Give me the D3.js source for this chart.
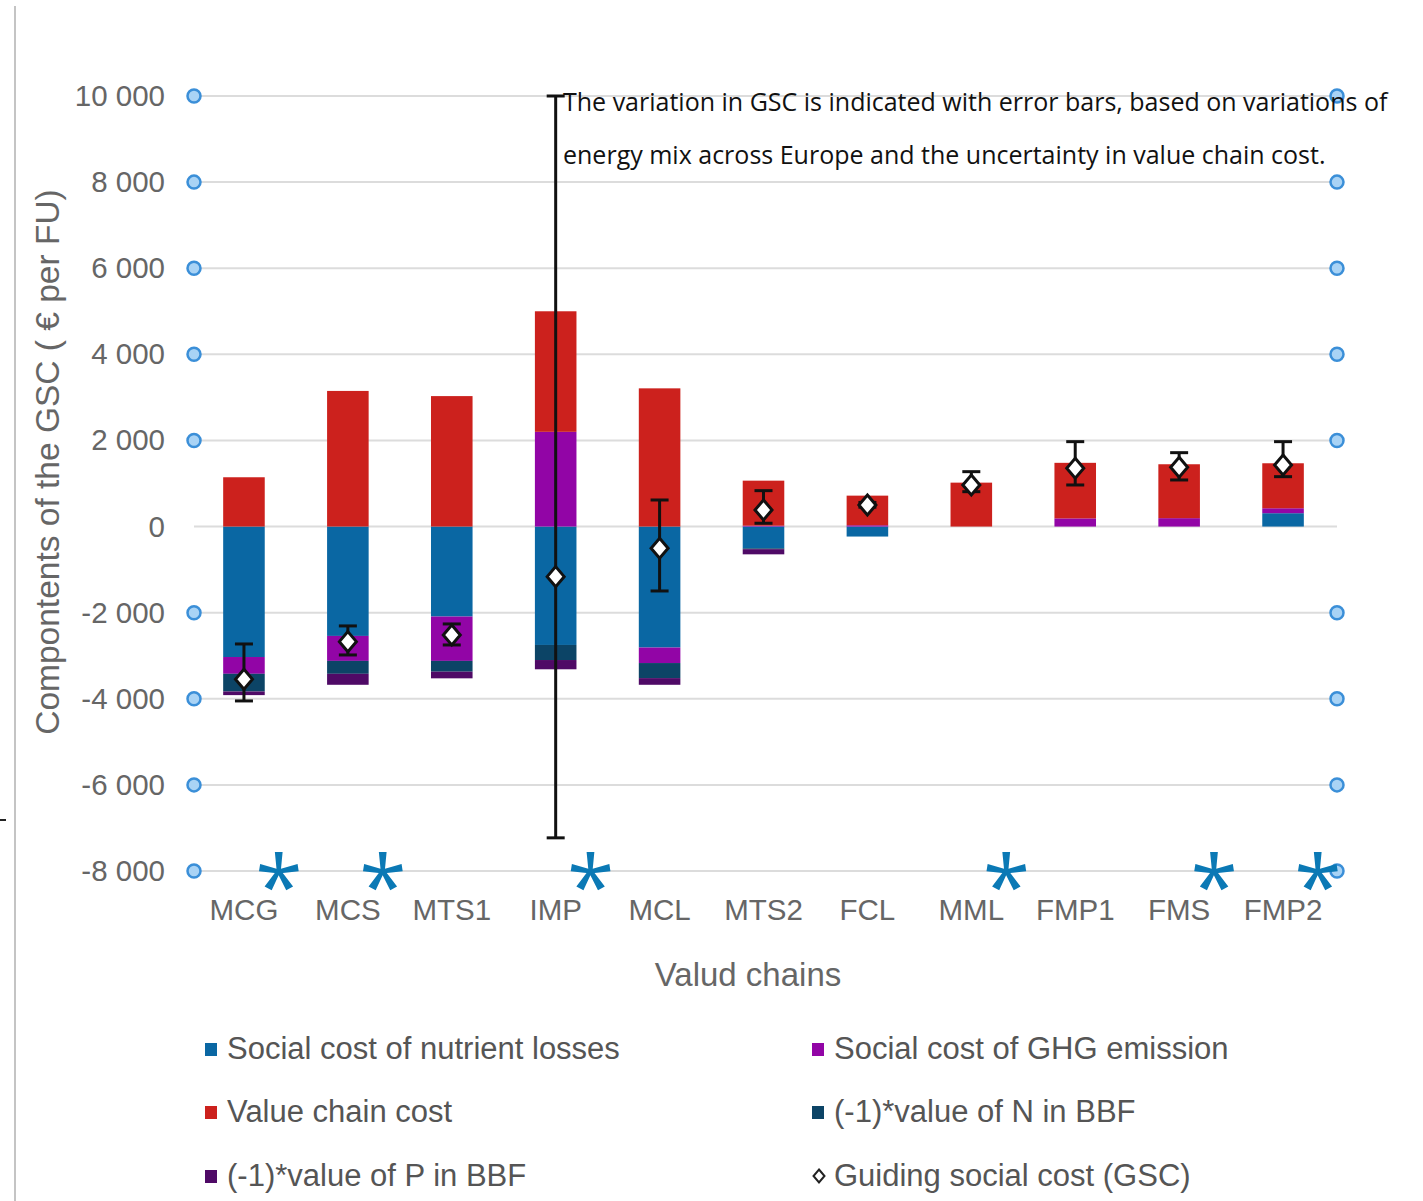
<!DOCTYPE html>
<html>
<head>
<meta charset="utf-8">
<script src="https://cdn.jsdelivr.net/npm/d3@7"></script>
<style>
  html, body { margin: 0; padding: 0; background: #fff; }
  svg { display: block; }
</style>
</head>
<body>
<svg id="chart" width="1423" height="1201"></svg>
<script>
// Value chains on the x axis
const categories = ["MCG", "MCS", "MTS1", "IMP", "MCL", "MTS2", "FCL", "MML", "FMP1", "FMS", "FMP2"];

// GSC components (€ per FU)
const nutrientLoss   = [-3030, -2540, -2090, -2750, -2810, -505, -232, 0, 0, 0, 310];
const ghgEmission    = [-390, -580, -1030, 2200, -360, 20, 30, 0, 190, 195, 115];
const valueChainCost = [1145, 3150, 3030, 2800, 3210, 1046, 688, 1020, 1290, 1252, 1045];
const nValue         = [-410, -300, -250, -350, -350, -20, 0, 0, 0, 0, 0];
const pValue         = [-85, -255, -155, -215, -155, -120, 0, 0, 0, 0, 0];

// Guiding social cost and its range
const gsc     = [-3546, -2673, -2518, -1163, -505, 385, 500, 966, 1354, 1377, 1430];
const gscLow  = [-4050, -2982, -2750, -7230, -1496, 77, 450, 810, 966, 1082, 1159];
const gscHigh = [-2727, -2308, -2262, 10000, 617, 834, 560, 1275, 1972, 1716, 1972];

// Chains flagged with an asterisk
const flagged = ["MCG", "MCS", "IMP", "MML", "FMS", "FMP2"];

// Axis ticks
const yTicks = [10000, 8000, 6000, 4000, 2000, 0, -2000, -4000, -6000, -8000];

const seriesKeys   = ["nutrient", "ghg", "vcc", "n", "p"];
const seriesLabels = {
  nutrient: "Social cost of nutrient losses",
  ghg: "Social cost of GHG emission",
  vcc: "Value chain cost",
  n: "(-1)*value of N in BBF",
  p: "(-1)*value of P in BBF"
};
const colors = {
  nutrient: "#0a67a3",
  ghg: "#9205a6",
  vcc: "#cc211d",
  n: "#0c4466",
  p: "#4f0a66"
};

const rows = categories.map((c, i) => ({
  cat: c,
  nutrient: nutrientLoss[i],
  ghg: ghgEmission[i],
  vcc: valueChainCost[i],
  n: nValue[i],
  p: pValue[i]
}));

const svg = d3.select("#chart");
const fontAxis = "'Liberation Sans', Arial, sans-serif";

const left = 194, right = 1337;
const x = d3.scaleBand()
  .domain(categories)
  .range([192, 1335])
  .paddingInner(0.6)
  .paddingOuter(0.3);
const y = d3.scaleLinear().domain([-8000, 10000]).range([871, 96]);

// frame line on the left edge
svg.append("line")
  .attr("x1", 15).attr("x2", 15).attr("y1", 6).attr("y2", 1201)
  .attr("stroke", "#c4c4c4").attr("stroke-width", 2);
svg.append("line")
  .attr("x1", 0).attr("x2", 6).attr("y1", 820).attr("y2", 820)
  .attr("stroke", "#222").attr("stroke-width", 2);

// gridlines
svg.append("g").selectAll("line")
  .data(yTicks)
  .join("line")
  .attr("x1", left).attr("x2", right)
  .attr("y1", d => y(d)).attr("y2", d => y(d))
  .attr("stroke", "#dcdcdc").attr("stroke-width", 2);

// y axis labels
const fmt = d3.formatLocale({ decimal: ".", thousands: " ", grouping: [3], currency: ["", ""], minus: "-" }).format(",");
const yAxis = svg.append("g")
  .attr("transform", `translate(${left},0)`)
  .call(d3.axisLeft(y).tickValues(yTicks).tickSize(0).tickPadding(29).tickFormat(fmt));
yAxis.select(".domain").remove();
yAxis.selectAll("text")
  .attr("font-family", fontAxis)
  .attr("font-size", 29.5)
  .attr("fill", "#666");

// stacked bars
const stack = d3.stack().keys(seriesKeys).offset(d3.stackOffsetDiverging);
const stacked = stack(rows);
svg.append("g").selectAll("g")
  .data(stacked)
  .join("g")
  .attr("fill", d => colors[d.key])
  .selectAll("rect")
  .data(d => d)
  .join("rect")
  .attr("x", d => x(d.data.cat))
  .attr("width", x.bandwidth())
  .attr("y", d => y(Math.max(d[0], d[1])))
  .attr("height", d => Math.abs(y(d[0]) - y(d[1])));

// error bars
const capW = 9;
const eb = svg.append("g").attr("stroke", "#111").attr("stroke-width", 3);
categories.forEach((c, i) => {
  const cx = x(c) + x.bandwidth() / 2;
  eb.append("line").attr("x1", cx).attr("x2", cx).attr("y1", y(gscHigh[i])).attr("y2", y(gscLow[i]));
  eb.append("line").attr("x1", cx - capW).attr("x2", cx + capW).attr("y1", y(gscHigh[i])).attr("y2", y(gscHigh[i]));
  eb.append("line").attr("x1", cx - capW).attr("x2", cx + capW).attr("y1", y(gscLow[i])).attr("y2", y(gscLow[i]));
});

// GSC diamonds
const diamond = (cx, cy, w, h) => `M${cx},${cy - h} L${cx + w},${cy} L${cx},${cy + h} L${cx - w},${cy} Z`;
svg.append("g").selectAll("path")
  .data(categories)
  .join("path")
  .attr("d", (c, i) => diamond(x(c) + x.bandwidth() / 2, y(gsc[i]), 8.5, 10))
  .attr("fill", "#fff")
  .attr("stroke", "#111")
  .attr("stroke-width", 3);

// axis end circles
const circTicks = yTicks.filter(d => d !== 0);
const circ = svg.append("g");
[left, right].forEach(cx => {
  circ.selectAll(null)
    .data(circTicks)
    .join("circle")
    .attr("cx", cx).attr("cy", d => y(d)).attr("r", 6.5)
    .attr("fill", "#a9d3f5").attr("stroke", "#3b8fd8").attr("stroke-width", 2.5);
});

// x labels
svg.append("g").selectAll("text")
  .data(categories)
  .join("text")
  .attr("x", c => x(c) + x.bandwidth() / 2)
  .attr("y", 920)
  .attr("text-anchor", "middle")
  .attr("font-family", fontAxis)
  .attr("font-size", 29.5)
  .attr("fill", "#666")
  .text(c => c);

// asterisks
svg.append("g").selectAll("text")
  .data(flagged)
  .join("text")
  .attr("x", c => x(c) + x.bandwidth() / 2 + 35)
  .attr("y", 918)
  .attr("text-anchor", "middle")
  .attr("font-family", "'Open Sans', sans-serif")
  .attr("font-weight", 400)
  .attr("font-size", 86)
  .attr("fill", "#0b79b5")
  .text("*");

// axis titles
svg.append("text")
  .attr("x", 748).attr("y", 986)
  .attr("text-anchor", "middle")
  .attr("font-family", fontAxis)
  .attr("font-size", 33)
  .attr("fill", "#666")
  .text("Valud chains");

svg.append("text")
  .attr("transform", "translate(59,462) rotate(-90)")
  .attr("text-anchor", "middle")
  .attr("font-family", fontAxis)
  .attr("font-size", 33.5)
  .attr("fill", "#666")
  .text("Compontents of the GSC ( € per FU)");

// note on the error bars
const note = svg.append("text")
  .attr("font-family", "'Open Sans', sans-serif")
  .attr("font-size", 25)
  .attr("fill", "#111");
note.append("tspan").attr("x", 563).attr("y", 111)
  .text("The variation in GSC is indicated with error bars, based on variations of");
note.append("tspan").attr("x", 563).attr("y", 164)
  .text("energy mix across Europe and the uncertainty in value chain cost.");

// legend
const legendItems = [
  { key: "nutrient", col: 0, row: 0 },
  { key: "ghg", col: 1, row: 0 },
  { key: "vcc", col: 0, row: 1 },
  { key: "n", col: 1, row: 1 },
  { key: "p", col: 0, row: 2 },
  { key: "gsc", col: 1, row: 2 }
];
const colX = [205, 812];
const rowY = [1048, 1111, 1175];
const lg = svg.append("g");
legendItems.forEach(it => {
  const gx = colX[it.col], gy = rowY[it.row];
  if (it.key === "gsc") {
    lg.append("path").attr("d", diamond(gx + 7, gy + 1, 5.5, 6.5))
      .attr("fill", "#fff").attr("stroke", "#222").attr("stroke-width", 2);
  } else {
    lg.append("rect").attr("x", gx).attr("y", gy - 5).attr("width", 12).attr("height", 13)
      .attr("fill", colors[it.key]);
  }
  lg.append("text")
    .attr("x", gx + 22).attr("y", gy + 11)
    .attr("font-family", fontAxis)
    .attr("font-size", 31)
    .attr("fill", "#555")
    .text(it.key === "gsc" ? "Guiding social cost (GSC)" : seriesLabels[it.key]);
});
</script>
</body>
</html>
